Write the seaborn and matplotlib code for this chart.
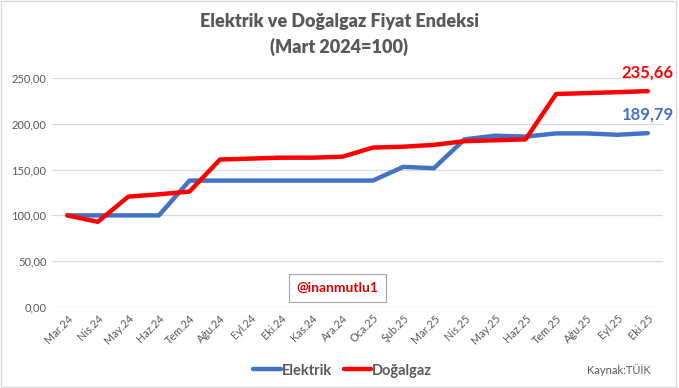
import numpy as np
import pandas as pd
import seaborn as sns
import matplotlib.pyplot as plt
from matplotlib.patches import Rectangle

sns.set_style("white")
plt.rcParams['font.family'] = ['Lato', 'DejaVu Sans']

# data
months = ['Mar.24', 'Nis.24', 'May.24', 'Haz.24', 'Tem.24', 'Ağu.24', 'Eyl.24', 'Eki.24',
          'Kas.24', 'Ara.24', 'Oca.25', 'Şub.25', 'Mar.25', 'Nis.25', 'May.25', 'Haz.25',
          'Tem.25', 'Ağu.25', 'Eyl.25', 'Eki.25']
elektrik = [100, 100, 100, 100, 138, 138, 138, 138, 138, 138, 138, 153, 151.5, 183, 187,
            186, 189.5, 189.5, 188, 189.79]
dogalgaz = [100, 93, 120.5, 123, 126, 161, 162, 163, 163, 164, 174, 175, 177, 181, 182,
            183, 232.5, 233.5, 234.5, 235.66]

df = pd.DataFrame({'ay': list(range(len(months))) * 2,
                   'deger': elektrik + dogalgaz,
                   'seri': ['Elektrik'] * len(months) + ['Doğalgaz'] * len(months)})

gray = '#595959'
blue = '#4472C4'
red = '#FF0000'

fig = plt.figure(figsize=(6.79, 3.88), dpi=100)
ax = fig.add_axes([0.0766, 0.2088, 0.8999, 0.5902])

sns.lineplot(data=df, x='ay', y='deger', hue='seri', palette={'Elektrik': blue, 'Doğalgaz': red},
             linewidth=3.2, ax=ax, legend=False)

ax.set_xlim(-0.5, len(months) - 0.5)
ax.set_ylim(0, 250)
ax.set_yticks(np.arange(0, 251, 50))
ax.set_yticklabels([f'{v:.2f}'.replace('.', ',') for v in np.arange(0, 251, 50)],
                   fontsize=8, color=gray)
ax.set_xticks(range(len(months)))
ax.set_xticklabels(months, rotation=45, ha='right', rotation_mode='anchor', fontsize=7.8, color=gray)
ax.tick_params(axis='both', length=0, pad=4)
ax.grid(axis='y', color='#D9D9D9', linewidth=0.9)
ax.set_axisbelow(True)
for s in ax.spines.values():
    s.set_visible(False)
ax.set_xlabel('')
ax.set_ylabel('')

# end labels
ax.text(len(months) - 1, dogalgaz[-1] + 12, f'{dogalgaz[-1]:.2f}'.replace('.', ','),
        color=red, fontsize=12, fontweight='bold', ha='center', va='bottom', clip_on=False)
ax.text(len(months) - 1, elektrik[-1] + 12, f'{elektrik[-1]:.2f}'.replace('.', ','),
        color=blue, fontsize=12, fontweight='bold', ha='center', va='bottom', clip_on=False)

# title
fig.text(0.5, 0.945, 'Elektrik ve Doğalgaz Fiyat Endeksi', ha='center', va='center',
         fontsize=13, fontweight='heavy', color=gray)
fig.text(0.5, 0.88, '(Mart 2024=100)', ha='center', va='center',
         fontsize=13, fontweight='heavy', color=gray)

# watermark
fig.text(0.497, 0.258, '@inanmutlu1', ha='center', va='center', fontsize=10, fontweight='bold',
         color='#E00000',
         bbox=dict(boxstyle='square,pad=0.55', facecolor='white', edgecolor='#A6A6A6', linewidth=0.8))

# legend
fig.legend(handles=[plt.Line2D([], [], color=blue, lw=3.2), plt.Line2D([], [], color=red, lw=3.2)],
           labels=['Elektrik', 'Doğalgaz'], loc='center', bbox_to_anchor=(0.505, 0.045), ncol=2,
           frameon=False, handlelength=1.9, handletextpad=0.05, columnspacing=0.8,
           prop={'size': 10.5, 'weight': 'bold'}, labelcolor=gray)

fig.text(0.958, 0.045, 'Kaynak:TÜİK', ha='right', va='center', fontsize=8, color=gray)

fig.patches.append(Rectangle((0.002, 0.003), 0.993, 0.994, transform=fig.transFigure,
                             fill=False, edgecolor='#D9D9D9', linewidth=1))

plt.savefig('out.png', dpi=100)
